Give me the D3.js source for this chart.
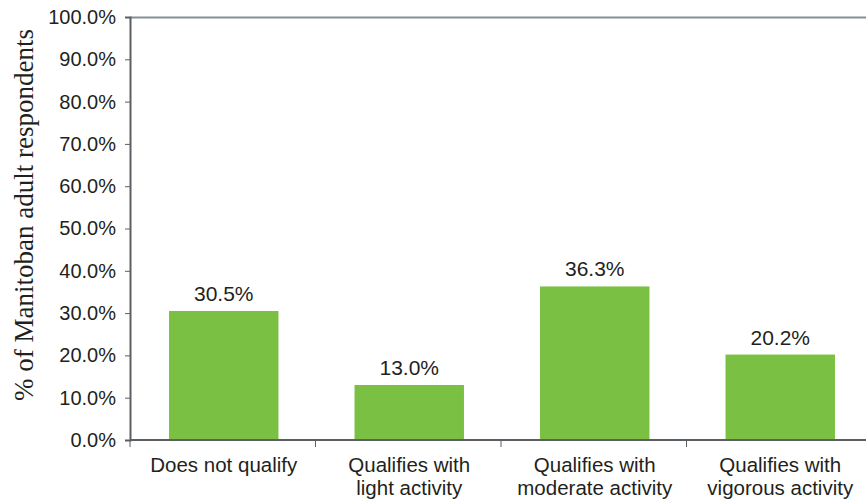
<!DOCTYPE html>
<meta charset="utf-8">
<script src="https://d3js.org/d3.v7.min.js"></script>
<style>
  body { margin: 0; background: #fff; }
  text { fill: #231f20; }
</style>
<body>
<div id="chart"></div>
<script>
  // chart data
  var categories = ["Does not qualify", "Qualifies with\nlight activity", "Qualifies with\nmoderate activity", "Qualifies with\nvigorous activity"];
  var values = [30.5, 13.0, 36.3, 20.2];
  var yTicks = [0, 10, 20, 30, 40, 50, 60, 70, 80, 90, 100];
  var yTitle = "% of Manitoban adult respondents";

  var margin = {top: 17, right: -6, bottom: 63, left: 130},
      W = 866, H = 503,
      width = W - margin.left - margin.right,
      height = H - margin.top - margin.bottom;

  var font = "Liberation Sans, Arial, sans-serif";

  var svg = d3.select("#chart").append("svg")
      .attr("width", W).attr("height", H);
  var g = svg.append("g")
      .attr("transform", "translate(" + margin.left + "," + margin.top + ")");

  var x = d3.scaleBand().domain(categories).range([0, width]).paddingInner(0.41).paddingOuter(0.205);
  var y = d3.scaleLinear().domain([0, 100]).range([height, 0]);

  // top border
  g.append("line")
    .attr("x1", 0).attr("x2", width).attr("y1", 0.5).attr("y2", 0.5)
    .attr("stroke", "#868f96").attr("stroke-width", 2);

  // bars
  g.selectAll(".bar").data(values).enter().append("rect")
    .attr("x", function(d, i) { return x(categories[i]) + 1; })
    .attr("y", function(d) { return y(d); })
    .attr("width", x.bandwidth())
    .attr("height", function(d) { return height - y(d); })
    .attr("fill", "#7ac143");

  // value labels
  g.selectAll(".lbl").data(values).enter().append("text")
    .attr("x", function(d, i) { return x(categories[i]) + 1 + x.bandwidth() / 2; })
    .attr("y", function(d) { return y(d) - 10; })
    .attr("text-anchor", "middle")
    .style("font-family", font)
    .style("font-size", "21px")
    .text(function(d) { return d.toFixed(1) + "%"; });

  // y axis
  var yAxis = g.append("g")
    .call(d3.axisLeft(y).tickValues(yTicks).tickSize(5).tickPadding(9)
      .tickFormat(function(d) { return d.toFixed(1) + "%"; }));
  yAxis.select(".domain").attr("stroke", "#5a5f64").attr("stroke-width", 2);
  yAxis.selectAll(".tick line").attr("stroke", "#5a5f64");
  yAxis.selectAll(".tick text")
    .style("font-family", font)
    .style("font-size", "20px").attr("fill", "#231f20");

  // x axis with ticks at band boundaries
  var xAxis = g.append("g").attr("transform", "translate(0," + height + ")");
  xAxis.append("line").attr("x1", 0).attr("x2", width).attr("y1", 0).attr("y2", 0)
    .attr("stroke", "#5a5f64").attr("stroke-width", 2);
  var step = x.step();
  var bounds = categories.map(function(c) { return x(c) - (step - x.bandwidth()) / 2; });
  xAxis.selectAll(".xt").data(bounds).enter().append("line")
    .attr("x1", function(d) { return d; }).attr("x2", function(d) { return d; })
    .attr("y1", 0).attr("y2", 7).attr("stroke", "#5a5f64");

  xAxis.selectAll(".cat").data(categories).enter().append("text")
    .attr("text-anchor", "middle")
    .attr("transform", function(d) { return "translate(" + (x(d) + 1 + x.bandwidth() / 2) + ",32)"; })
    .style("font-family", font)
    .style("font-size", "20.5px")
    .each(function(d) {
      var t = d3.select(this);
      d.split("\n").forEach(function(line, i) {
        t.append("tspan").attr("x", 0).attr("dy", i === 0 ? 0 : 23).text(line);
      });
    });

  // y title
  svg.append("text")
    .attr("transform", "translate(33," + 215 + ") rotate(-90)")
    .attr("text-anchor", "middle")
    .style("font-family", "Liberation Serif, Times New Roman, serif")
    .style("font-size", "27px")
    .text(yTitle);
</script>
</body>
